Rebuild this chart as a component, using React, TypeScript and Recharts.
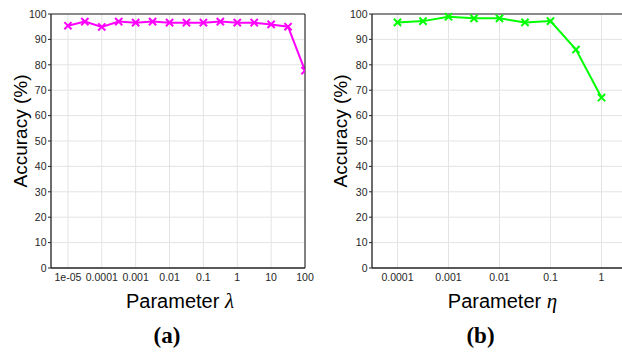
import React from 'react';
import { LineChart, Line, XAxis, YAxis, CartesianGrid } from 'recharts';

// ---- data ----
const lambdaValues = [1e-5, 3.16e-5, 1e-4, 3.16e-4, 1e-3, 3.16e-3, 0.01, 0.0316, 0.1, 0.316, 1, 3.16, 10, 31.6, 100];
const lambdaAccuracy = [95.4, 97.0, 94.9, 97.0, 96.6, 97.0, 96.6, 96.6, 96.6, 97.0, 96.6, 96.6, 95.9, 95.0, 77.7];
const lambdaTicks = [1e-5, 1e-4, 1e-3, 0.01, 0.1, 1, 10, 100];
const lambdaTickLabels = ['1e-05', '0.0001', '0.001', '0.01', '0.1', '1', '10', '100'];
const lambdaDomain = [3.1623e-6, 100];

const etaValues = [1e-4, 3.16e-4, 1e-3, 3.16e-3, 0.01, 0.0316, 0.1, 0.316, 1];
const etaAccuracy = [96.7, 97.2, 98.9, 98.3, 98.3, 96.7, 97.2, 86.0, 67.1];
const etaTicks = [1e-4, 1e-3, 0.01, 0.1, 1];
const etaTickLabels = ['0.0001', '0.001', '0.01', '0.1', '1'];
const etaDomain = [3.1623e-5, 3.1623];

const accuracyTicks = [0, 10, 20, 30, 40, 50, 60, 70, 80, 90, 100];

const FONT = '"Liberation Sans", Arial, Helvetica, sans-serif';
const SERIF = '"Liberation Serif", "Times New Roman", serif';
const AXIS = '#262626';
const GRID = '#e3e3e3';

const XLabel = (props: any) => {
  const { viewBox, symbol, panel, shift, panelShift } = props;
  const cx = viewBox.x + viewBox.width / 2;
  return (
    <g>
      <text x={cx + shift} y={viewBox.y + 40} textAnchor="middle" fontFamily={FONT} fontSize={20} fill="#000">
        Parameter <tspan fontFamily={SERIF} fontStyle="italic" fontSize={21}>{symbol}</tspan>
      </text>
      <text x={cx + panelShift} y={viewBox.y + 75} textAnchor="middle" fontFamily={SERIF} fontWeight="bold" fontSize={23} fill="#000">
        {panel}
      </text>
    </g>
  );
};

const YLabel = (props: any) => {
  const { viewBox } = props;
  const x = viewBox.x + 26.5;
  const y = viewBox.y + viewBox.height / 2 - 10;
  return (
    <text x={x} y={y} transform={`rotate(-90, ${x}, ${y})`} textAnchor="middle" fontFamily={FONT} fontSize={19} fill="#000">
      Accuracy (%)
    </text>
  );
};

const makeCross = (color: string) => (p: any) => {
  const { cx, cy, index } = p;
  if (cx == null || cy == null) return <g key={`d${index}`} />;
  const s = 3.6;
  return (
    <path
      key={`d${index}`}
      d={`M${cx - s},${cy - s}L${cx + s},${cy + s}M${cx + s},${cy - s}L${cx - s},${cy + s}`}
      stroke={color}
      strokeWidth={2}
      fill="none"
    />
  );
};

type PanelProps = {
  xs: number[];
  ys: number[];
  ticks: number[];
  tickLabels: string[];
  domain: number[];
  color: string;
  symbol: string;
  panel: string;
  yWidth: number;
  right: number;
  shift: number;
  panelShift: number;
};

const Panel = ({ xs, ys, ticks, tickLabels, domain, color, symbol, panel, yWidth, right, shift, panelShift }: PanelProps) => {
  const data = xs.map((x, i) => ({ x, acc: ys[i] }));
  const fmt = (v: number) => {
    const i = ticks.findIndex((t) => Math.abs(Math.log10(t) - Math.log10(v)) < 1e-6);
    return i >= 0 ? tickLabels[i] : String(v);
  };
  const tickStyle = { fontFamily: FONT, fontSize: 10.5, fill: AXIS };
  return (
    <LineChart width={320} height={352} data={data} margin={{ top: 14, right, bottom: 0, left: 0 }}>
      <CartesianGrid stroke={GRID} strokeWidth={1} />
      <XAxis
        dataKey="x"
        type="number"
        scale="log"
        domain={domain}
        allowDataOverflow
        ticks={ticks}
        interval={0}
        tickFormatter={fmt}
        tick={tickStyle}
        tickLine={false}
        tickSize={3}
        tickMargin={3}
        height={84}
        axisLine={{ stroke: AXIS, strokeWidth: 1.3 }}
        label={<XLabel symbol={symbol} panel={panel} shift={shift} panelShift={panelShift} />}
      />
      <XAxis
        xAxisId="bm"
        dataKey="x"
        type="number"
        scale="log"
        domain={domain}
        allowDataOverflow
        ticks={ticks}
        interval={0}
        orientation="bottom"
        mirror
        tick={false}
        tickSize={3}
        tickLine={{ stroke: AXIS }}
        axisLine={false}
      />
      <XAxis
        xAxisId="top"
        dataKey="x"
        type="number"
        scale="log"
        domain={domain}
        allowDataOverflow
        ticks={ticks}
        interval={0}
        orientation="top"
        mirror
        tick={false}
        tickSize={3}
        tickLine={{ stroke: AXIS }}
        axisLine={{ stroke: AXIS, strokeWidth: 1.1 }}
      />
      <YAxis
        type="number"
        domain={[0, 100]}
        ticks={accuracyTicks}
        interval={0}
        width={yWidth}
        tick={tickStyle}
        tickSize={3}
        tickMargin={1.5}
        tickLine={{ stroke: AXIS }}
        axisLine={{ stroke: AXIS, strokeWidth: 1.3 }}
        label={<YLabel />}
      />
      <YAxis
        yAxisId="r"
        orientation="right"
        mirror
        type="number"
        domain={[0, 100]}
        ticks={accuracyTicks}
        interval={0}
        tick={false}
        tickSize={3}
        tickLine={{ stroke: AXIS }}
        axisLine={{ stroke: AXIS, strokeWidth: 1.1 }}
      />
      <Line
        dataKey="acc"
        stroke={color}
        strokeWidth={2}
        dot={makeCross(color)}
        activeDot={false}
        isAnimationActive={false}
      />
    </LineChart>
  );
};

export default function App() {
  return (
    <div style={{ position: 'absolute', left: 0, top: 0, width: 622, height: 352, overflow: 'hidden', background: '#fff' }}>
      <div style={{ position: 'absolute', left: 0, top: 0 }}>
        <Panel
          xs={lambdaValues}
          ys={lambdaAccuracy}
          ticks={lambdaTicks}
          tickLabels={lambdaTickLabels}
          domain={lambdaDomain}
          color="#ff00ff"
          symbol="λ"
          panel="(a)"
          yWidth={51}
          right={15}
          shift={2}
          panelShift={-11}
        />
      </div>
      <div style={{ position: 'absolute', left: 320, top: 0 }}>
        <Panel
          xs={etaValues}
          ys={etaAccuracy}
          ticks={etaTicks}
          tickLabels={etaTickLabels}
          domain={etaDomain}
          color="#00ff00"
          symbol="η"
          panel="(b)"
          yWidth={52}
          right={13}
          shift={3}
          panelShift={-19}
        />
      </div>
    </div>
  );
}
